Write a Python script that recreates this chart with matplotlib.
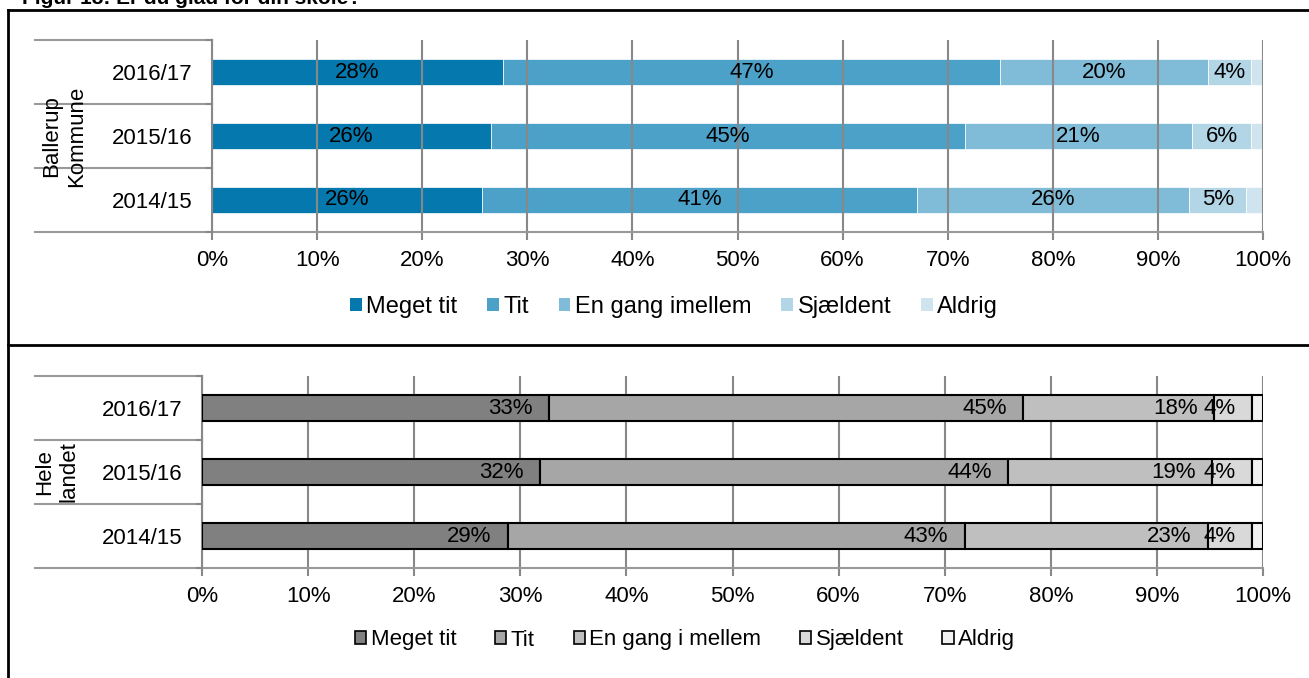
import numpy as np
import matplotlib as mpl
mpl.use('Agg')
import matplotlib.pyplot as plt
from matplotlib.lines import Line2D
from matplotlib.patches import Patch

plt.rcParams['font.family'] = ['Liberation Sans', 'DejaVu Sans']

years = ['2014/15', '2015/16', '2016/17']
answers = ['Meget tit', 'Tit', 'En gang imellem', 'Sjældent', 'Aldrig']
answers_dk = ['Meget tit', 'Tit', 'En gang i mellem', 'Sjældent', 'Aldrig']

# shares in percent, rows = years (2014/15 first), cols = answers
ballerup = np.array([
    [25.7, 41.4, 25.9, 5.4, 1.6],
    [26.5, 45.1, 21.6, 5.7, 1.1],
    [27.7, 47.3, 19.8, 4.1, 1.1],
])
ballerup_lbl = [
    ['26%', '41%', '26%', '5%', ''],
    ['26%', '45%', '21%', '6%', ''],
    ['28%', '47%', '20%', '4%', ''],
]
landet = np.array([
    [28.8, 43.1, 22.9, 4.2, 1.0],
    [31.9, 44.1, 19.2, 3.8, 1.0],
    [32.7, 44.7, 18.0, 3.6, 1.0],
])
landet_lbl = [
    ['29%', '43%', '23%', '4%', ''],
    ['32%', '44%', '19%', '4%', ''],
    ['33%', '45%', '18%', '4%', ''],
]

blue_cols = ['#0579ae', '#4ba1c8', '#80bcd8', '#b3d6e7', '#d0e4ef']
grey_cols = ['#808080', '#a6a6a6', '#bfbfbf', '#d9d9d9', '#f2f2f2']

W, H = 1309, 678
FS = 16
fig = plt.figure(figsize=(W / 100, H / 100), dpi=100)


def fx(px):
    return px / W


def fy(py):
    return 1 - py / H


def panel(x0, top, bottom, data, labels, cols, group, group_x, outlined):
    ax = fig.add_axes([fx(x0), fy(bottom), fx(1263 - x0), (bottom - top) / H])
    y = np.arange(len(years))
    left = np.zeros(len(years))
    for j in range(len(answers)):
        if outlined:
            ax.barh(y, data[:, j], left=left, height=0.41, color=cols[j],
                    edgecolor='black', linewidth=1.5, zorder=3)
        else:
            ax.barh(y, data[:, j], left=left, height=0.4, color=cols[j],
                    edgecolor='white', linewidth=0.5, zorder=1)
        for i in range(len(years)):
            txt = labels[i][j]
            if not txt:
                continue
            if outlined:
                ax.annotate(txt, (left[i] + data[i, j], y[i]), xytext=(-12, 0),
                            textcoords='offset points', ha='right', va='center',
                            fontsize=FS, zorder=5)
            else:
                ax.text(left[i] + data[i, j] / 2, y[i], txt, ha='center',
                        va='center', fontsize=FS, zorder=5)
        left += data[:, j]
    ax.set_xlim(0, 100)
    ax.set_ylim(-0.5, 2.5)
    ax.set_xticks(np.arange(0, 101, 10))
    ax.set_xticklabels([f'{v}%' for v in range(0, 101, 10)], fontsize=FS)
    ax.set_yticks(y)
    ax.set_yticklabels(years, fontsize=FS)
    ax.tick_params(axis='y', length=0, pad=14)
    ax.tick_params(axis='x', length=6, color='#888888', width=1.5, pad=7)
    ax.grid(axis='x', color='#888888', linewidth=1.5, zorder=2 if not outlined else 0)
    ax.set_axisbelow(outlined)
    for s in ['top', 'right']:
        ax.spines[s].set_visible(False)
    ax.spines['left'].set_color('#888888')
    ax.spines['left'].set_linewidth(1.5)
    ax.spines['bottom'].set_visible(False)
    # category separators on the left
    step = (bottom - top) / 3
    for k in range(4):
        yy = top + k * step
        x_end = 1263 if k == 3 else x0
        fig.add_artist(Line2D([fx(35), fx(x_end)], [fy(yy), fy(yy)],
                              color='#999999', lw=1.5))
        fig.add_artist(Line2D([fx(x0 - 5), fx(x0)], [fy(yy), fy(yy)],
                              color='#888888', lw=1.5))
    fig.text(fx(group_x), fy((top + bottom) / 2), group, rotation=90,
             ha='center', va='center', fontsize=FS, linespacing=1.25)
    return ax


ax1 = panel(212, 40, 232, ballerup, ballerup_lbl, blue_cols,
            'Ballerup\nKommune', 64, False)
ax2 = panel(202, 376, 568, landet, landet_lbl, grey_cols,
            'Hele\nlandet', 57, True)

h1 = [Patch(facecolor=c, edgecolor='none') for c in blue_cols]
fig.legend(h1, answers, loc='center', bbox_to_anchor=(fx(674), fy(307)), ncol=5,
           frameon=False, fontsize=FS + 1, handlelength=0.5, handleheight=0.5,
           handletextpad=0.2, columnspacing=1.25)
h2 = [Patch(facecolor=c, edgecolor='black', linewidth=1.2) for c in grey_cols]
fig.legend(h2, answers_dk, loc='center', bbox_to_anchor=(fx(685), fy(640)), ncol=5,
           frameon=False, fontsize=FS, handlelength=0.5, handleheight=0.5,
           handletextpad=0.2, columnspacing=1.75)

# frame lines
fig.add_artist(Line2D([fx(8), fx(8)], [fy(10), 0], color='black', lw=2))
fig.add_artist(Line2D([fx(8), 1], [fy(10), fy(10)], color='black', lw=2))
fig.add_artist(Line2D([fx(8), 1], [fy(345), fy(345)], color='black', lw=2))

# title, cut off at the top edge as in the source
fig.text(fx(22), fy(-1), 'Figur 18: Er du glad for din skole?', fontsize=15,
         fontweight='bold', ha='left', va='center')

fig.savefig('out.png', dpi=100)
